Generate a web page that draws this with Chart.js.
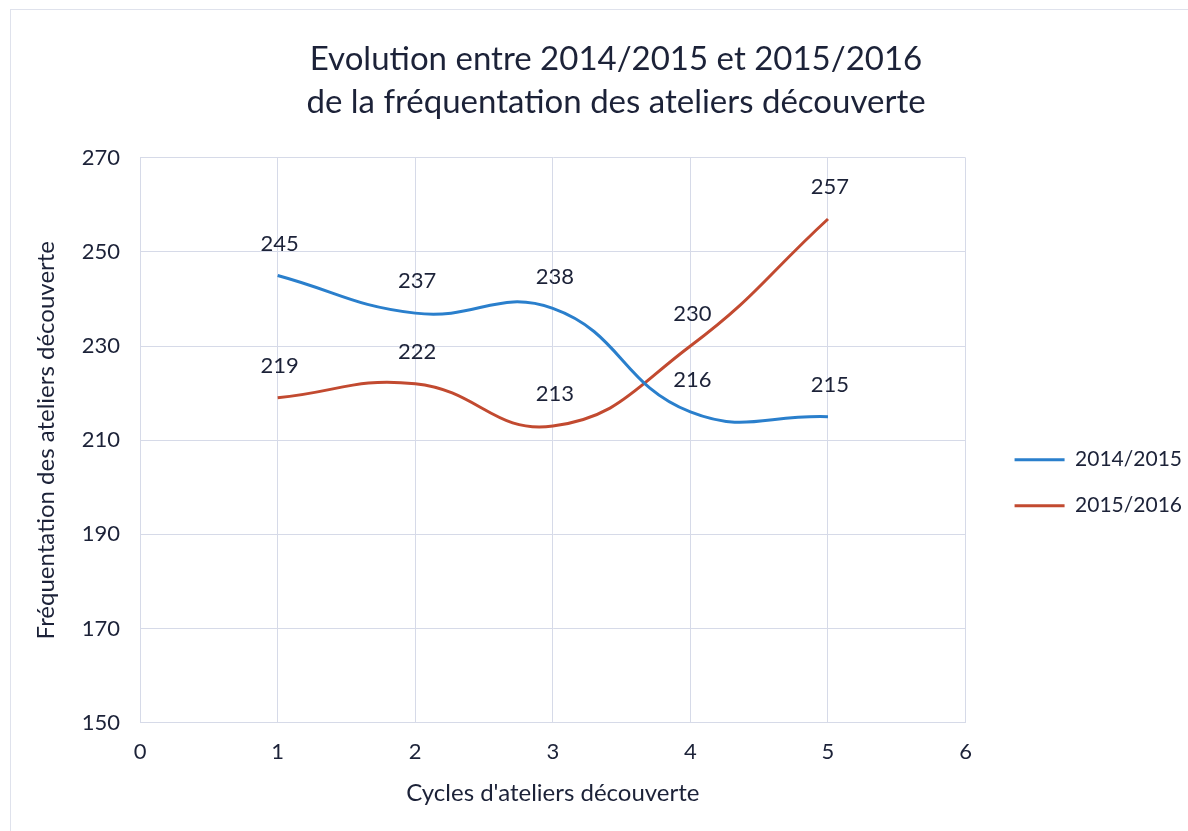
<!DOCTYPE html>
<html>
<head>
<meta charset="utf-8">
<script src="https://cdn.jsdelivr.net/npm/chart.js@4"></script>
<style>
  html, body { margin: 0; padding: 0; background: #fff; overflow: hidden; }
  #wrap { position: relative; width: 1188px; height: 831px; }
  #frame { position: absolute; left: 10px; top: 9px; width: 1190px; height: 840px; border: 1px solid #dfe2ec; pointer-events: none; }
</style>
</head>
<body>
<div id="wrap"><canvas id="chart"></canvas><div id="frame"></div></div>
<script>
const CYCLES = [1, 2, 3, 4, 5];
const VALUES_2014 = [245, 237, 238, 216, 215];
const VALUES_2015 = [219, 222, 213, 230, 257];
const SERIES_NAMES = ["2014/2015", "2015/2016"];
const COLORS = {
  A: "#2a7fcc",
  B: "#c24a30"
};
const TEXT = "#1c2238";
const GRID = "#d6dae8";
const FONT = "Lato";

function points(values) {
  return values.map((v, i) => ({ x: CYCLES[i], y: v }));
}

// value labels above each point
const labelPlugin = {
  id: "valueLabels",
  afterDatasetsDraw(chart) {
    const ctx = chart.ctx;
    ctx.save();
    ctx.fillStyle = TEXT;
    ctx.font = "22px " + FONT;
    ctx.textAlign = "center";
    ctx.textBaseline = "middle";
    chart.data.datasets.forEach((ds, di) => {
      const meta = chart.getDatasetMeta(di);
      meta.data.forEach((pt, i) => {
        ctx.fillText(String(ds.data[i].y), pt.x + 2, pt.y - 32);
      });
    });
    ctx.restore();
  }
};

// small shifts of the title and legend boxes after layout
const nudgePlugin = {
  id: "nudge",
  afterLayout(chart) {
    const t = chart.titleBlock;
    if (t) { t.left += 16; t.right += 16; }
    const l = chart.legend;
    if (l) { l.left += 24; l.right += 24; l.top += 24; l.bottom += 24; }
  }
};

const chartConfig = {
  type: "line",
  data: {
    datasets: [
      {
        label: SERIES_NAMES[0],
        data: points(VALUES_2014),
        borderColor: COLORS.A,
        backgroundColor: COLORS.A,
        borderWidth: 3,
        pointRadius: 0,
        tension: 0.45,
        fill: false
      },
      {
        label: SERIES_NAMES[1],
        data: points(VALUES_2015),
        borderColor: COLORS.B,
        backgroundColor: COLORS.B,
        borderWidth: 3,
        pointRadius: 0,
        tension: 0.45,
        fill: false
      }
    ]
  },
  options: {
    responsive: true,
    maintainAspectRatio: false,
    animation: false,
    layout: {
      padding: { left: 32, right: 20, top: 38, bottom: 26 }
    },
    scales: {
      x: {
        type: "linear",
        min: 0,
        max: 6,
        ticks: { stepSize: 1, color: TEXT, font: { family: FONT, size: 22 }, padding: 16 },
        grid: { color: GRID, drawTicks: false },
        border: { color: GRID },
        title: {
          display: true,
          text: "Cycles d'ateliers découverte",
          color: TEXT,
          font: { family: FONT, size: 24, lineHeight: 1 },
          padding: { top: 0, bottom: 0 }
        }
      },
      y: {
        min: 150,
        max: 270,
        ticks: { stepSize: 20, color: TEXT, font: { family: FONT, size: 22 }, padding: 20 },
        grid: { color: GRID, drawTicks: false },
        border: { color: GRID },
        title: {
          display: true,
          text: "Fréquentation des ateliers découverte",
          color: TEXT,
          font: { family: FONT, size: 24 },
          padding: { top: 0, bottom: 1 }
        }
      }
    },
    plugins: {
      title: {
        display: true,
        text: ["Evolution entre 2014/2015 et 2015/2016", "de la fréquentation des ateliers découverte"],
        color: TEXT,
        font: { family: FONT, size: 33, weight: "normal", lineHeight: 1.3 },
        padding: { top: 0, bottom: 34 }
      },
      legend: {
        position: "right",
        title: { display: true, text: "", padding: { top: 60, bottom: 0 } },
        labels: {
          color: TEXT,
          font: { family: FONT, size: 21 },
          boxWidth: 50,
          boxHeight: 3,
          padding: 25,
          generateLabels(chart) {
            return Chart.defaults.plugins.legend.labels.generateLabels(chart).map((it) => {
              it.lineWidth = 0;
              return it;
            });
          }
        }
      },
      tooltip: { enabled: false }
    }
  },
  plugins: [labelPlugin, nudgePlugin]
};
new Chart(document.getElementById("chart"), chartConfig);
</script>
</body>
</html>
